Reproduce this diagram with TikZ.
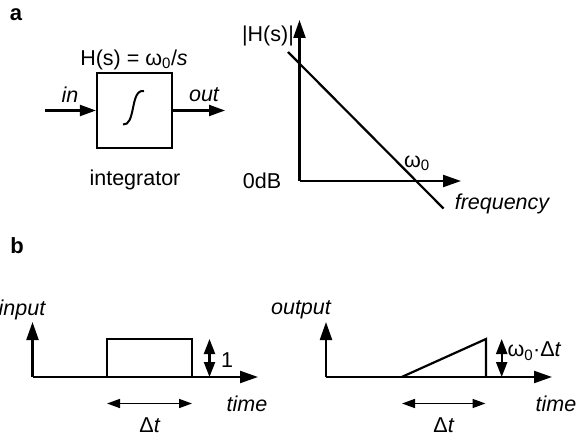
\documentclass[tikz,border=0pt]{standalone}
\usepackage{fontspec}
\setmainfont{Liberation Sans}
\usetikzlibrary{arrows.meta}
\begin{document}
\begin{tikzpicture}[x=1pt,y=-1pt,
  every node/.style={inner sep=0pt,font=\fontsize{21.5}{25}\selectfont},
  axis/.style={line width=2.2pt,-{Triangle[length=18pt,width=12pt]}},
  sig/.style={line width=2.2pt,-{Triangle[length=16pt,width=11pt]}},
  dbl/.style={line width=2.2pt,{Triangle[length=15pt,width=11pt]}-{Triangle[length=15pt,width=11pt]}},
  span/.style={line width=1.6pt,{Triangle[length=13pt,width=9pt]}-{Triangle[length=13pt,width=9pt]}}]
\useasboundingbox (0,0) rectangle (582,436);
% panel a
\node[font=\fontsize{22}{25}\selectfont\bfseries] (la) at (16,15) {a};
\node[draw,line width=2.2pt,minimum width=75pt,minimum height=75pt] (box) at (134.5,110.5) {};
\coordinate (inS) at (45,110.5);
\coordinate (outE) at (225,110.5);
\draw[sig] (inS) -- (box.west);
\draw[sig] (box.east) -- (outE);
\node (in) at (70,95) {\itshape in};
\node (out) at (204,95) {\itshape out};
\node (H) at (134,60) {H(s) = ω\textsubscript{0}/\textit{s}};
\node (integ) at (135,180) {integrator};
\draw[line width=2pt] (123,124.5) .. controls (129,125) and (131,118) .. (133,108)
  .. controls (135,98) and (137,90) .. (144,91);
% bode plot
\coordinate (o1) at (299.5,181);
\coordinate (yt) at (299.5,20);
\coordinate (xt) at (461,181);
\draw[axis] (o1) -- (yt);
\draw[axis] (o1) -- (xt);
\coordinate (d1) at (288,52);
\coordinate (d2) at (443.5,208.5);
\draw[line width=2.2pt] (d1) -- (d2);
\node (Hs) at (268,36) {|H(s)|};
\node (zdb) at (262,181) {0dB};
\node (w0) at (417,163) {ω\textsubscript{0}};
\node (freq) at (502,204) {\itshape frequency};
% panel b
\node[font=\fontsize{22}{25}\selectfont\bfseries] (lb) at (17,246) {b};
\coordinate (o2) at (32.5,377);
\draw[axis] (o2) -- (32.5,322);
\draw[axis] (o2) -- (258,377);
\draw[line width=2.2pt] (106.7,377) -- (106.7,339) -- (192.3,339) -- (192.3,377);
\coordinate (a1t) at (209.5,339);
\coordinate (a1b) at (209.5,377);
\draw[dbl] (a1t) -- (a1b);
\node (one) at (227,360) {1};
\coordinate (s1a) at (107,403.5);
\coordinate (s1b) at (192,403.5);
\draw[span] (s1a) -- (s1b);
\node (dt1) at (150,425) {Δ\textit{t}};
\node (in2) at (22,310) {\itshape input};
\node (t1) at (247,404) {\itshape time};
% output
\coordinate (o3) at (326,377);
\draw[axis] (o3) -- (326,322);
\draw[axis] (o3) -- (552,377);
\draw[line width=2.2pt] (401.7,377) -- (486,339) -- (486,377);
\coordinate (a2t) at (501.7,339);
\coordinate (a2b) at (501.7,377);
\draw[dbl] (a2t) -- (a2b);
\node (wdt) at (534.5,351) {ω\textsubscript{0}·Δ\textit{t}};
\coordinate (s2a) at (402,403.5);
\coordinate (s2b) at (485.5,403.5);
\draw[span] (s2a) -- (s2b);
\node (dt2) at (444,425) {Δ\textit{t}};
\node (out2) at (301,310) {\itshape output};
\node (t2) at (556,404) {\itshape time};
\end{tikzpicture}
\end{document}
